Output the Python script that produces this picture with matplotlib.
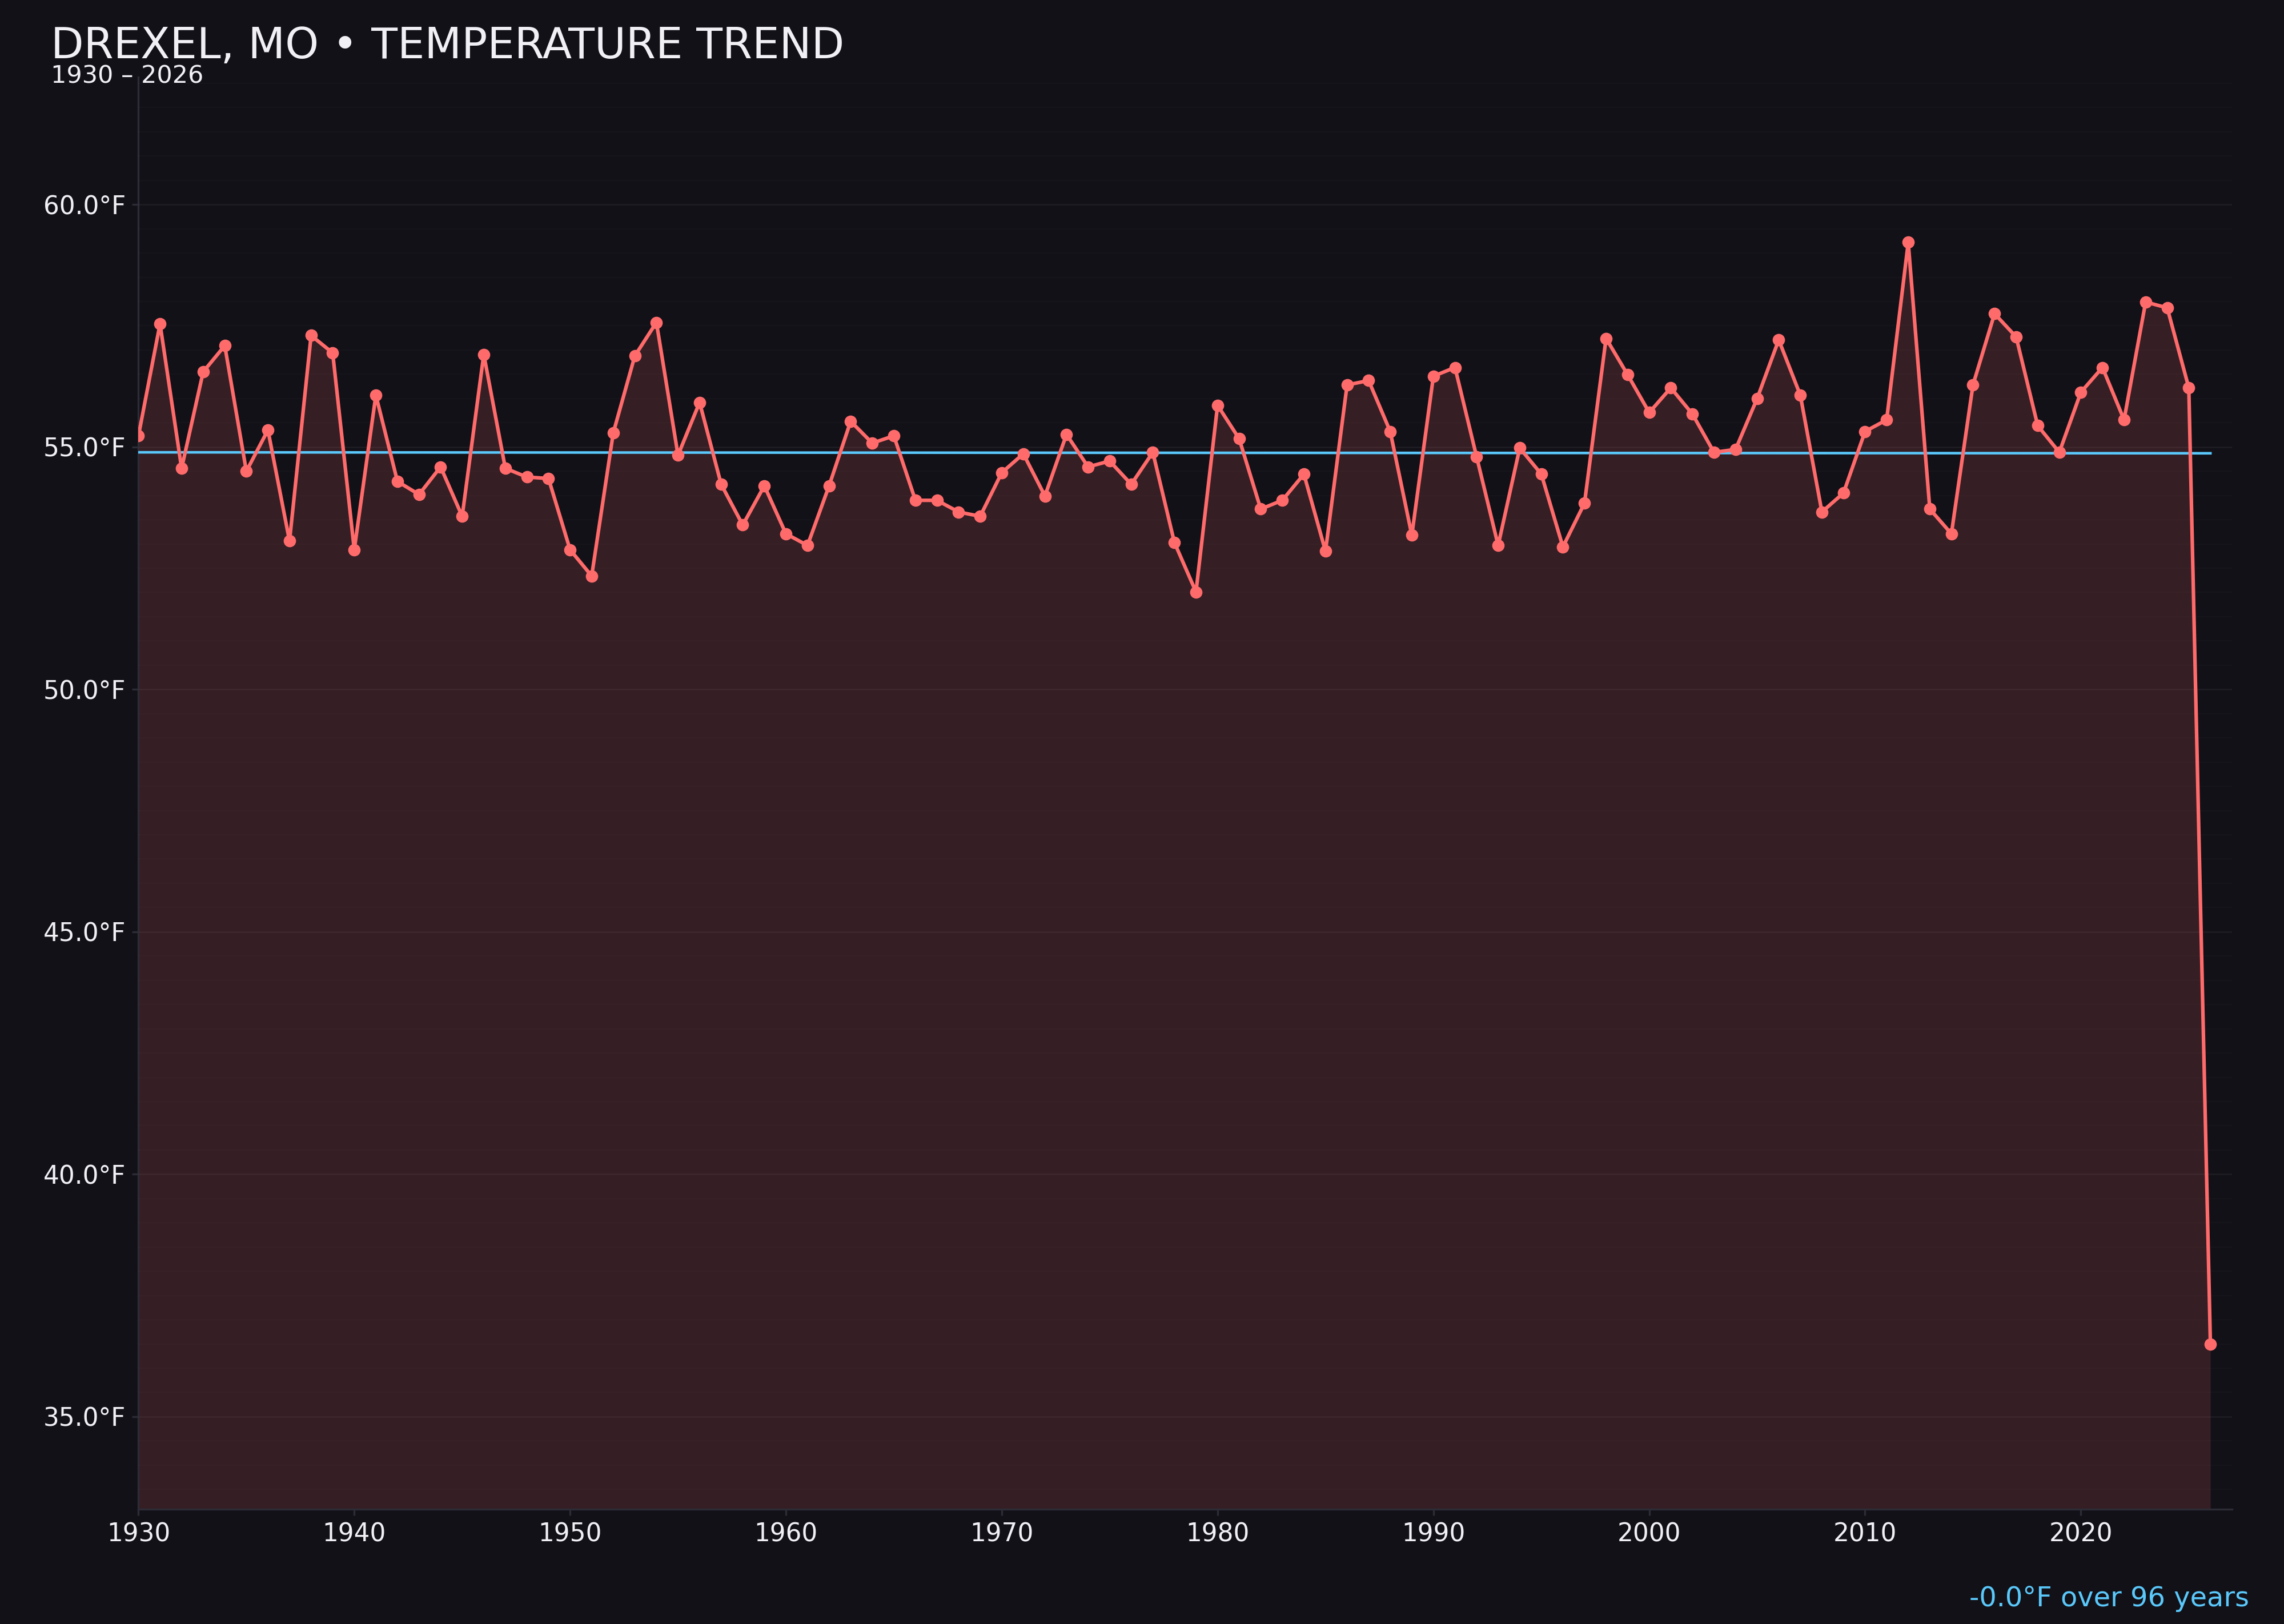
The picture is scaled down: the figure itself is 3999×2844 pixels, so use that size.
import matplotlib.pyplot as plt
import numpy as np
from matplotlib.ticker import MultipleLocator, FuncFormatter

# annual mean temperature, Drexel MO
years = np.arange(1930, 2027)
temps = [
    55.23, 57.54, 54.56, 56.55, 57.09, 54.50, 55.35, 53.06, 57.30, 56.94,  # 1930s
    52.88, 56.07, 54.29, 54.02, 54.59, 53.57, 56.91, 54.56, 54.38, 54.35,  # 1940s
    52.88, 52.34, 55.29, 56.88, 57.57, 54.83, 55.92, 54.23, 53.39, 54.20,  # 1950s
    53.21, 52.97, 54.20, 55.53, 55.08, 55.23, 53.90, 53.90, 53.66, 53.57,  # 1960s
    54.47, 54.86, 53.99, 55.26, 54.59, 54.71, 54.23, 54.89, 53.03, 52.01,  # 1970s
    55.86, 55.17, 53.72, 53.90, 54.44, 52.85, 56.28, 56.37, 55.32, 53.18,  # 1980s
    56.46, 56.64, 54.80, 52.97, 54.98, 54.44, 52.94, 53.84, 57.24, 56.49,  # 1990s
    55.71, 56.22, 55.68, 54.89, 54.95, 56.00, 57.21, 56.07, 53.66, 54.05,  # 2000s
    55.32, 55.56, 59.22, 53.72, 53.21, 56.28, 57.75, 57.27, 55.44, 54.89,  # 2010s
    56.13, 56.64, 55.56, 57.99, 57.87, 56.22, 36.50,                       # 2020s
]

trend_years = [1930, 2026]
trend_vals = [54.89, 54.87]

title = "DREXEL, MO \u2022 TEMPERATURE TREND"
subtitle = "1930 \u2013 2026"
note = "-0.0\u00b0F over 96 years"

bg = "#121118"
red = "#ff6b6b"
blue = "#5ac8fa"
txt = "#f0f0f5"
dim = "#2c2c36"

fig = plt.figure(figsize=(13.333, 9.48), dpi=300, facecolor=bg)
ax = fig.add_axes([0.0606, 0.0707, 0.9164, 0.8818], facecolor=bg)

lo, hi = min(temps), max(temps)
pad = (hi - lo) * 0.15
ax.set_ylim(lo - pad, hi + pad)
ax.set_xlim(1930, 2027)

ax.fill_between(years, temps, lo - pad, color=red, alpha=0.15, linewidth=0, zorder=2)
ax.plot(years, temps, color=red, lw=1.5, marker="o", ms=4.2, zorder=4)
ax.plot(trend_years, trend_vals, color=blue, lw=1.1, zorder=3)

ax.yaxis.set_major_locator(MultipleLocator(5))
ax.yaxis.set_minor_locator(MultipleLocator(0.5))
ax.yaxis.set_major_formatter(FuncFormatter(lambda v, p: f"{v:.1f}\u00b0F"))
ax.xaxis.set_major_locator(MultipleLocator(10))
ax.xaxis.set_major_formatter(FuncFormatter(lambda v, p: f"{int(v)}"))

ax.grid(axis="y", which="major", color="white", alpha=0.05, lw=0.6, zorder=2.5)
ax.grid(axis="y", which="minor", color="white", alpha=0.018, lw=0.5, zorder=2.5)
ax.set_axisbelow(False)

for s in ["top", "right"]:
    ax.spines[s].set_visible(False)
for s in ["left", "bottom"]:
    ax.spines[s].set_color(dim)
    ax.spines[s].set_linewidth(0.8)

ax.tick_params(axis="both", which="major", colors=dim, labelcolor=txt,
               labelsize=10.5, length=2.6, width=0.8, pad=2.8)
ax.tick_params(axis="y", which="minor", length=0)

fig.text(0.0223, 0.9641, title, color=txt, fontsize=18, ha="left", va="baseline")
fig.text(0.0223, 0.9490, subtitle, color=txt, fontsize=10.3, ha="left", va="baseline")
fig.text(0.9845, 0.0109, note, color=blue, fontsize=11.5, ha="right", va="baseline")

fig.savefig("out.png", dpi=300, facecolor=bg)
